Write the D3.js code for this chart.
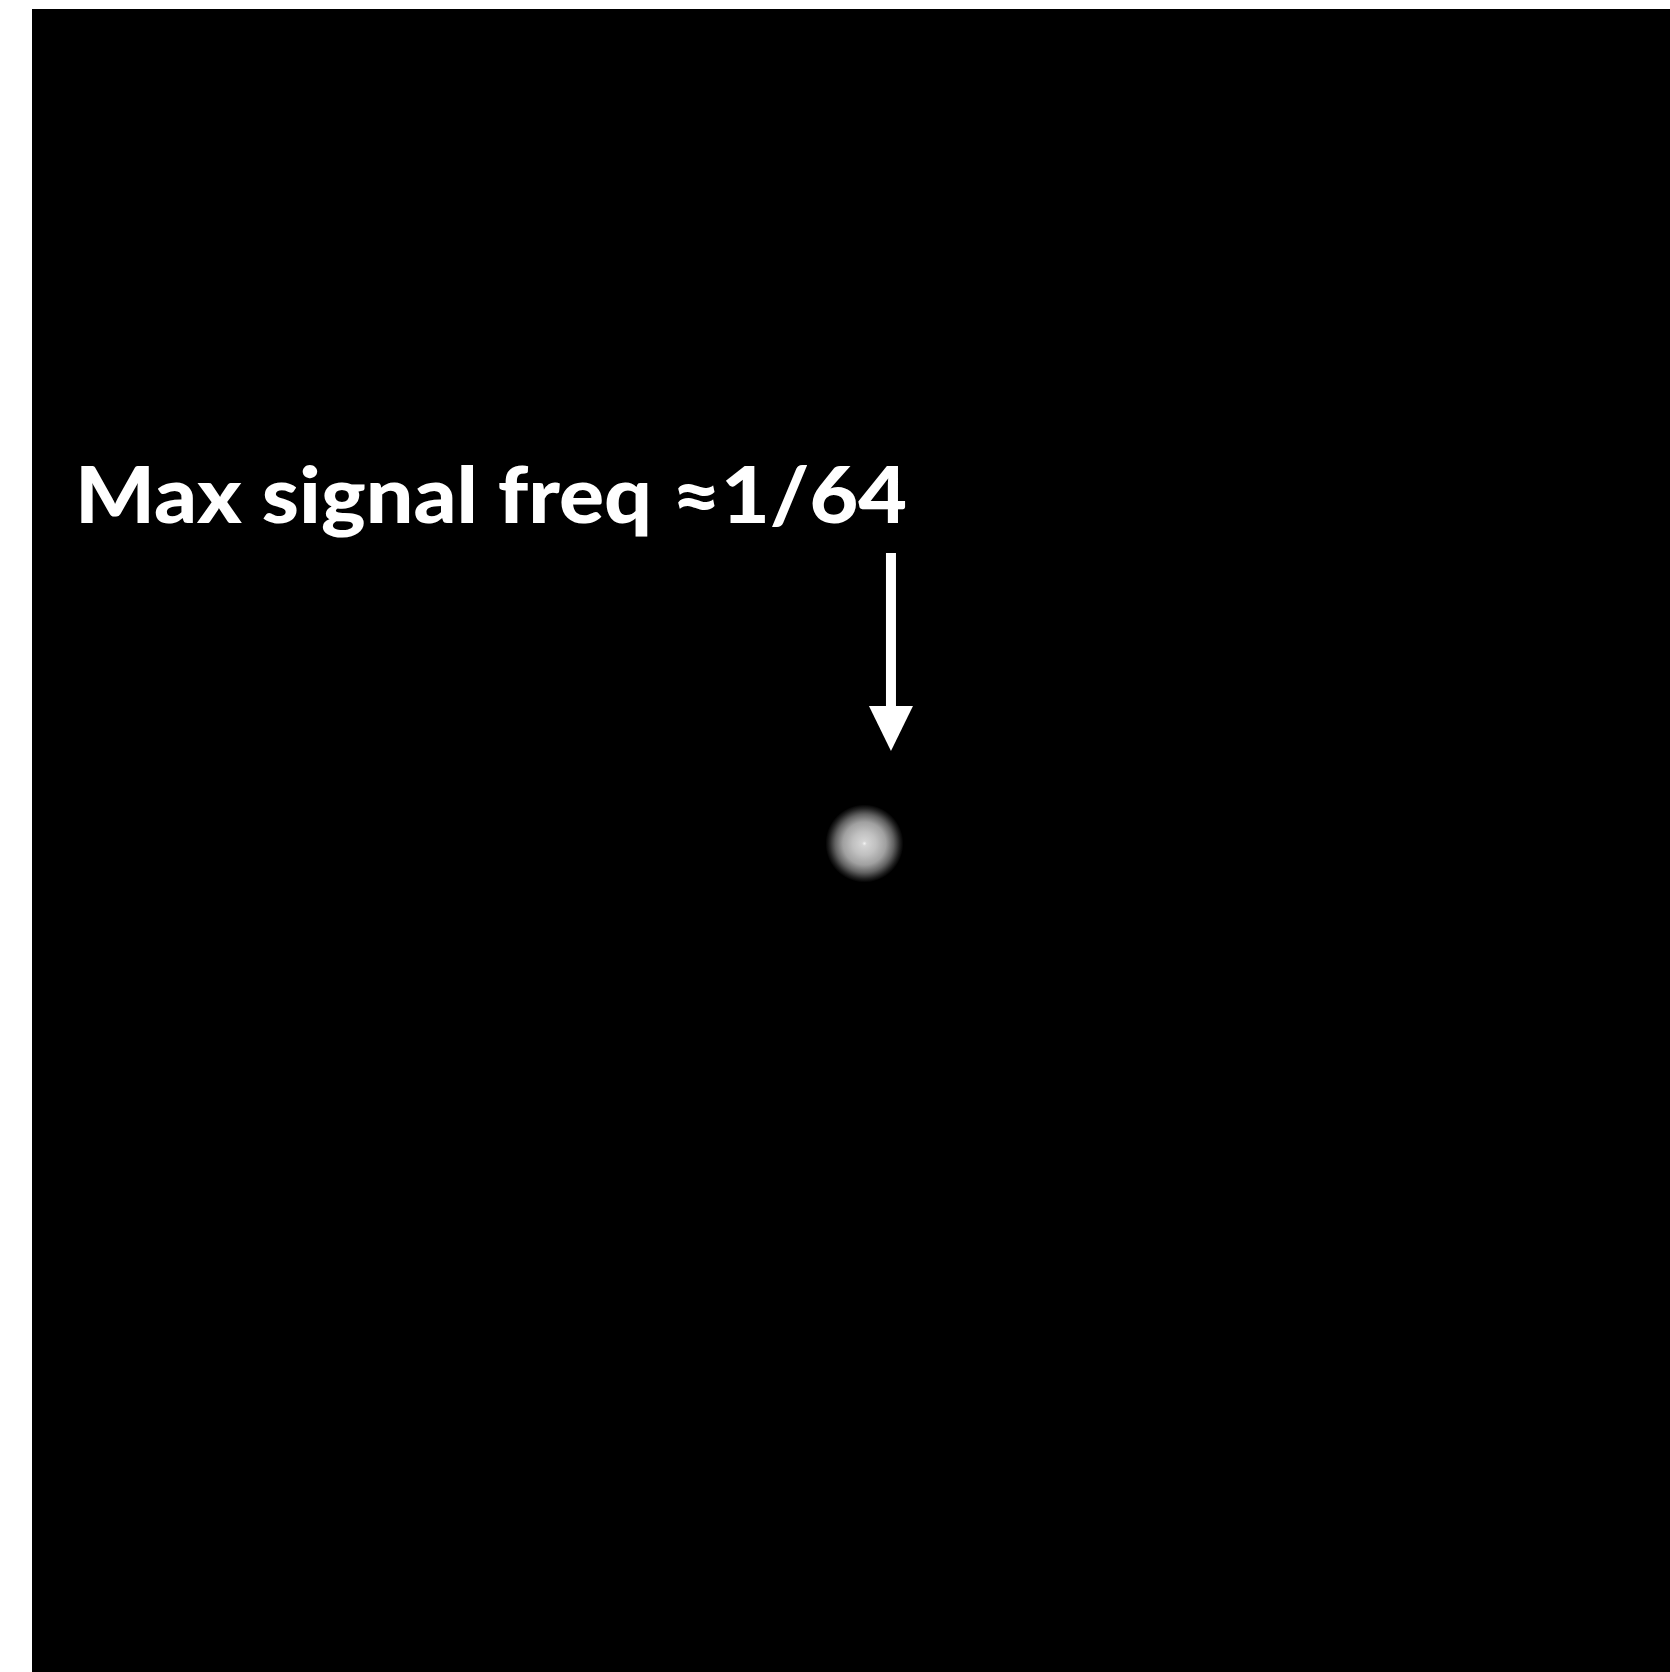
<!DOCTYPE html>
<html><head><meta charset="utf-8">
<script src="https://cdn.jsdelivr.net/npm/d3@7"></script>
<style>html,body{margin:0;padding:0;background:#fff;}svg{display:block;}</style>
</head><body>
<script>
// Data
const peakX = [0.0082];          // spectral peak location (normalized freq, x)
const peakY = [0.0018];          // spectral peak location (normalized freq, y)
const peakPower = [1.0];         // relative power
const annotationLabel = ["Max signal freq \u22481/64"];
const arrowFreq = [0.0244];      // where the arrow points (x, normalized)

(function () {
const W = 1670, H = 1672;
const svg = d3.select("body").append("svg").attr("width", W).attr("height", H);

const padL = 32, padT = 9;
const x = d3.scaleLinear().domain([-0.5, 0.5]).range([padL, W]);
const y = d3.scaleLinear().domain([-0.5, 0.5]).range([padT, H]);
const r = d3.scaleSqrt().domain([0, 1]).range([0, 39]);

svg.append("rect").attr("x", padL).attr("y", padT).attr("width", W - padL).attr("height", H - padT).attr("fill", "#000");

const defs = svg.append("defs");
const grad = defs.append("radialGradient").attr("id", "blob");
[[0, "#f4f4f4"], [0.06, "#d4d4d4"], [0.3, "#c0c0c0"], [0.55, "#a0a0a0"], [0.75, "#626262"], [0.9, "#222"], [1, "#000"]]
  .forEach(([o, c]) => grad.append("stop").attr("offset", o).attr("stop-color", c));

svg.selectAll("circle.peak").data(peakX.map((d, i) => ({x: d, y: peakY[i], p: peakPower[i]})))
  .join("circle").attr("class", "peak")
  .attr("cx", d => x(d.x)).attr("cy", d => y(d.y)).attr("r", d => r(d.p))
  .attr("fill", "url(#blob)");

// annotation
const ax = x(arrowFreq[0]);
svg.append("rect").attr("x", ax - 5).attr("y", 553).attr("width", 10).attr("height", 155).attr("fill", "#fff");
svg.append("path").attr("d", `M${ax - 22},706 L${ax + 22},706 L${ax},751 Z`).attr("fill", "#fff");

svg.append("text").attr("x", 75).attr("y", 523)
  .attr("font-family", "Lato, 'Open Sans', sans-serif").attr("font-weight", 900)
  .attr("font-size", 79).attr("fill", "#fff")
  .attr("textLength", 832).attr("lengthAdjust", "spacingAndGlyphs")
  .text(annotationLabel[0]);
})();
</script>
</body></html>
